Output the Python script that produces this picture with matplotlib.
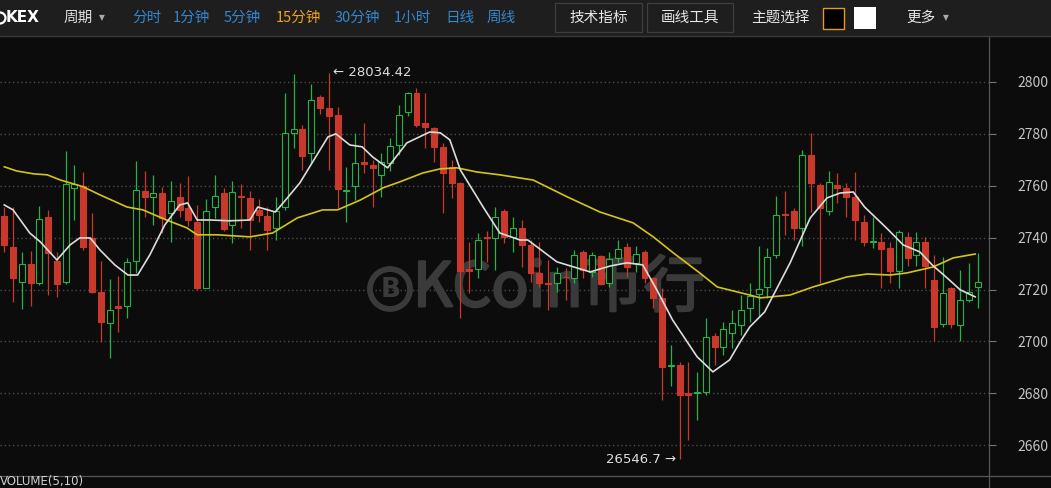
import matplotlib
matplotlib.use("Agg")
import matplotlib.pyplot as plt
import matplotlib.patheffects as pe
from matplotlib.patches import Rectangle, Circle
from matplotlib.lines import Line2D

plt.rcParams['font.family'] = ['Noto Sans CJK SC', 'DejaVu Sans']

# 15 minute candles, index 0 = leftmost visible candle
opens = [27484, 27363, 27231, 27299, 27227, 27481, 27311, 27231, 27593, 27600,
         27398, 27190, 27073, 27135, 27135, 27311, 27580, 27558, 27571, 27494,
         27556, 27513, 27462, 27205, 27517, 27571, 27449, 27560, 27552, 27506,
         27484, 27436, 27520, 27805, 27818, 27728, 27940, 27899, 27873, 27580,
         27600, 27690, 27680, 27642, 27689, 27758, 27886, 27956, 27841, 27822,
         27749, 27674, 27610, 27279, 27279, 27404, 27398, 27504, 27404, 27436,
         27372, 27263, 27226, 27224, 27250, 27244, 27346, 27269, 27330, 27224,
         27321, 27363, 27301, 27346, 27244, 27167, 26905, 26910, 26803, 26800,
         26807, 27021, 26980, 27034, 27064, 27128, 27183, 27209, 27333, 27490,
         27504, 27439, 27719, 27603, 27504, 27603, 27590, 27556, 27462, 27382,
         27385, 27359, 27273, 27404, 27334, 27382, 27237, 27066, 27205, 27064,
         27160, 27211]
highs = [27520, 27520, 27344, 27349, 27523, 27507, 27344, 27734, 27680, 27652,
         27494, 27311, 27241, 27253, 27321, 27697, 27657, 27642, 27597, 27619,
         27610, 27638, 27526, 27548, 27642, 27591, 27619, 27606, 27578, 27550,
         27520, 27558, 27957, 28030, 27835, 27991, 27950, 28034.42, 27905, 27674,
         27805, 27841, 27700, 27725, 27783, 27912, 27963, 27978, 27957, 27828,
         27764, 27700, 27616, 27385, 27417, 27427, 27520, 27510, 27479, 27468,
         27391, 27385, 27314, 27286, 27282, 27353, 27353, 27346, 27334, 27346,
         27391, 27381, 27368, 27353, 27250, 27205, 26987, 26922, 26922, 26884,
         27090, 27032, 27077, 27122, 27179, 27224, 27366, 27359, 27561, 27581,
         27513, 27738, 27802, 27610, 27658, 27648, 27610, 27654, 27488, 27481,
         27417, 27385, 27430, 27423, 27423, 27404, 27333, 27327, 27211, 27276,
         27301, 27340]
lows = [27346, 27154, 27124, 27135, 27218, 27180, 27173, 27222, 27469, 27353,
        27186, 26999, 26936, 27038, 27090, 27263, 27478, 27449, 27417, 27385,
        27480, 27443, 27199, 27205, 27475, 27424, 27379, 27437, 27353, 27460,
        27353, 27392, 27507, 27745, 27661, 27687, 27877, 27661, 27513, 27462,
        27546, 27648, 27520, 27558, 27655, 27719, 27867, 27828, 27745, 27693,
        27494, 27552, 27090, 27186, 27244, 27308, 27276, 27380, 27346, 27288,
        27231, 27211, 27121, 27192, 27160, 27224, 27244, 27250, 27218, 27211,
        27308, 27250, 27269, 27224, 27128, 26775, 26829, 26546.7, 26621, 26698,
        26794, 26910, 26948, 26974, 27025, 27077, 27096, 27166, 27321, 27411,
        27391, 27366, 27500, 27224, 27488, 27532, 27481, 27391, 27366, 27359,
        27205, 27224, 27205, 27289, 27289, 27205, 27000, 27057, 27051, 27000,
        27154, 27128]
closes = [27372, 27244, 27299, 27225, 27472, 27340, 27221, 27607, 27607, 27363,
          27190, 27077, 27122, 27130, 27308, 27584, 27558, 27571, 27475, 27542,
          27507, 27469, 27205, 27501, 27561, 27433, 27575, 27556, 27469, 27488,
          27430, 27501, 27802, 27818, 27713, 27931, 27899, 27867, 27587, 27585,
          27689, 27685, 27667, 27693, 27754, 27873, 27956, 27835, 27826, 27751,
          27648, 27610, 27270, 27270, 27392, 27398, 27481, 27404, 27436, 27372,
          27263, 27224, 27222, 27263, 27247, 27334, 27276, 27334, 27222, 27318,
          27357, 27288, 27337, 27244, 27167, 26903, 26910, 26794, 26794, 26807,
          27019, 26980, 27047, 27073, 27122, 27175, 27202, 27324, 27488, 27486,
          27436, 27719, 27610, 27513, 27613, 27590, 27558, 27468, 27382, 27386,
          27355, 27272, 27423, 27321, 27385, 27289, 27057, 27188, 27068, 27160,
          27192, 27230]

# moving average lines (candle index, price)
ma_short_x = [0, 1, 2.9, 4.1, 6.0, 7.5, 8.6, 9.8, 10.9, 12.6, 14.1, 15.2, 16.6,
              18.3, 20.0, 20.9, 22.0, 23.5, 25.7, 28.0, 28.9, 30.9, 31.8, 33.7,
              36.9, 37.8, 39.4, 40.8, 42.0, 43.7, 45.9, 48.5, 49.7, 50.8, 52.0,
              54.6, 56.5, 58.8, 59.7, 63.0, 66.8, 69.1, 71.0, 72.8, 74.4, 76.2,
              79.0, 80.8, 82.7, 83.9, 85.0, 86.7, 89.6, 91.9, 93.8, 95.3, 96.8,
              98.1, 100.6, 102.5, 104.4, 105.8, 107.5, 109.0, 110.7]
ma_short_y = [27526, 27507, 27418, 27384, 27314, 27372, 27399, 27399, 27353,
              27295, 27256, 27256, 27334, 27449, 27526, 27534, 27468, 27468,
              27465, 27468, 27518, 27499, 27534, 27611, 27788, 27800, 27757,
              27750, 27711, 27669, 27765, 27807, 27804, 27777, 27661, 27518,
              27418, 27391, 27391, 27307, 27268, 27291, 27303, 27295, 27199,
              27083, 26941, 26883, 26929, 26998, 27056, 27114, 27303, 27476,
              27553, 27572, 27576, 27518, 27437, 27372, 27345, 27295, 27245,
              27199, 27172]
ma_long_x = [0, 1.4, 3.3, 4.9, 6.4, 9.0, 10.9, 14.0, 15.8, 18.5, 20.8, 22.0,
             24.3, 28.0, 30.6, 33.4, 36.3, 38.0, 40.6, 43.2, 45.1, 47.7, 49.7,
             51.6, 53.9, 56.5, 60.3, 64.2, 67.9, 71.7, 74.0, 76.3, 79.3, 81.3,
             85.0, 86.2, 89.6, 92.2, 96.1, 98.4, 101.0, 102.9, 105.9, 108.2,
             110.7]
ma_long_y = [27673, 27657, 27646, 27642, 27622, 27596, 27565, 27518, 27507,
             27468, 27438, 27411, 27411, 27403, 27418, 27476, 27507, 27507,
             27545, 27592, 27615, 27649, 27665, 27669, 27653, 27642, 27622,
             27557, 27499, 27457, 27403, 27341, 27264, 27210, 27179, 27168,
             27179, 27210, 27249, 27260, 27256, 27264, 27287, 27322, 27337]

price_ticks = [26600, 26800, 27000, 27200, 27400, 27600, 27800, 28000]
# the screenshot cuts the last digit off, so the axis reads 2660 ... 2800
tick_labels = ["2660", "2680", "2700", "2720", "2740", "2760", "2780", "2800"]
max_price = 28034.42
min_price = 26546.7

periods = ["分时", "1分钟", "5分钟", "15分钟", "30分钟", "1小时", "日线", "周线"]
active_period = "15分钟"
buttons = ["技术指标", "画线工具"]

BG = "#0c0c0c"
BAR_BG = "#1e1e1e"
UP = "#27b24a"
DOWN = "#c9392b"
W, H = 1051, 488


def px(x, y):
    # pixel position (from top left) -> inches for dpi_scale_trans
    return x / 100, (H - y) / 100


fig = plt.figure(figsize=(W / 100, H / 100), dpi=100, facecolor=BG)
tr = fig.dpi_scale_trans

ax = fig.add_axes([0, 1 - 475.7 / H, 989 / W, (475.7 - 37) / H])
ax.set_facecolor(BG)
ax.set_xlim(-0.49, 112.28)
ax.set_ylim(26483, 28173)
for s in ["top", "left", "bottom", "right"]:
    ax.spines[s].set_visible(False)
ax.set_xticks([])
ax.yaxis.tick_right()
ax.set_yticks(price_ticks)
ax.set_yticklabels(tick_labels)
ax.tick_params(axis="y", length=5, width=0.8, color="#777", labelcolor="#c4c4c4",
               labelsize=10, pad=15.5)
ax.set_axisbelow(True)
ax.grid(axis="y", color="#4a4a4a", linestyle=(0, (1, 2)), linewidth=1)

# watermark
WM = "#3a3a3a"
ax.add_patch(Circle(px(390, 289), 0.2, transform=tr, fill=False,
                    edgecolor=WM, linewidth=4.2, zorder=0.6))
ax.text(*px(391, 290), "B", transform=tr, ha="center", va="center",
        fontsize=19, fontweight="bold", color=WM, family="DejaVu Sans",
        zorder=0.6)
ax.text(*px(413, 289), "KCoin币行", transform=tr, ha="left", va="center",
        fontsize=44, color=WM, zorder=0.6,
        path_effects=[pe.withStroke(linewidth=1.8, foreground=WM)])

# candles
idx = list(range(len(opens)))
colors = [UP if c >= o else DOWN for o, c in zip(opens, closes)]
ax.vlines(idx, lows, highs, colors=colors, linewidth=0.9, zorder=2)
bottoms = [min(o, c) for o, c in zip(opens, closes)]
heights = [max(abs(c - o), 3) for o, c in zip(opens, closes)]
faces = [BG if col == UP else DOWN for col in colors]
ax.bar(idx, heights, bottom=bottoms, width=0.68, color=faces,
       edgecolor=colors, linewidth=0.8, zorder=3)

# moving averages
ax.plot(ma_long_x, ma_long_y, color="#d4c418", linewidth=1.2, zorder=4)
ax.plot(ma_short_x, ma_short_y, color="#dcdcdc", linewidth=1.2, zorder=5)

# high / low labels
hi_i = highs.index(max_price)
lo_i = lows.index(min_price)
ax.text(hi_i + 0.45, max_price, "← " + f"{max_price:.2f}", ha="left", va="center",
        fontsize=9.5, color="#dedede", family="DejaVu Sans", zorder=6)
ax.text(lo_i - 0.45, min_price, f"{min_price}" + " →", ha="right", va="center",
        fontsize=9.5, color="#dedede", family="DejaVu Sans", zorder=6)

# frame lines
fig.add_artist(Line2D([989 / 100, 989 / 100], [0, (H - 36) / 100], transform=tr,
                      color="#555555", linewidth=0.9))
fig.add_artist(Line2D([0, W / 100], [(H - 475.7) / 100] * 2, transform=tr,
                      color="#555555", linewidth=0.9))
fig.text(*px(0, 488), "VOLUME(5,10)", transform=tr, ha="left", va="bottom",
         fontsize=8.5, color="#cfcfcf", family="DejaVu Sans")

# toolbar
fig.add_artist(Rectangle(px(0, 36), W / 100, 0.36, transform=tr,
                         facecolor=BAR_BG, edgecolor="none"))
fig.add_artist(Line2D([0, W / 100], [(H - 36) / 100] * 2, transform=tr,
                      color="#3a3a3a", linewidth=1))
fig.add_artist(Circle(px(0, 18), 0.055, transform=tr, fill=False,
                      edgecolor="white", linewidth=1.6))
fig.text(*px(6, 18), "KEX", transform=tr, va="center", ha="left", fontsize=11,
         fontweight="bold", color="white", family="DejaVu Sans")
fig.text(*px(64, 18), "周期", transform=tr, va="center", ha="left",
         fontsize=10.5, color="#dddddd")
fig.text(*px(102, 18), "▼", transform=tr, va="center", ha="center",
         fontsize=5.5, color="#aaaaaa", family="DejaVu Sans")

period_x = [132, 173, 224, 276, 335, 394, 445, 487]
for label, x in zip(periods, period_x):
    fig.text(*px(x, 18), label, transform=tr, va="center", ha="left",
             fontsize=10.5, color="#f0a21c" if label == active_period else "#3486cf")

button_box = [(555, 642), (647, 733)]
for label, (x0, x1) in zip(buttons, button_box):
    fig.add_artist(Rectangle(px(x0, 32), (x1 - x0) / 100, 0.29, transform=tr,
                             facecolor=BAR_BG, edgecolor="#3e3e3e", linewidth=0.9))
    fig.text(*px((x0 + x1) / 2, 18), label, transform=tr, va="center",
             ha="center", fontsize=10.5, color="#e6e6e6")

fig.text(*px(751, 18), "主题选择", transform=tr, va="center", ha="left",
         fontsize=10.5, color="#e6e6e6")
fig.add_artist(Rectangle(px(823, 29), 0.21, 0.215, transform=tr,
                         facecolor="black", edgecolor="#e59a22", linewidth=1))
fig.add_artist(Rectangle(px(854, 29), 0.22, 0.22, transform=tr,
                         facecolor="white", edgecolor="none"))
fig.text(*px(906, 18), "更多", transform=tr, va="center", ha="left",
         fontsize=10.5, color="#e6e6e6")
fig.text(*px(946, 18), "▼", transform=tr, va="center", ha="center",
         fontsize=5.5, color="#aaaaaa", family="DejaVu Sans")

fig.savefig("out.png", dpi=100, facecolor=BG)
